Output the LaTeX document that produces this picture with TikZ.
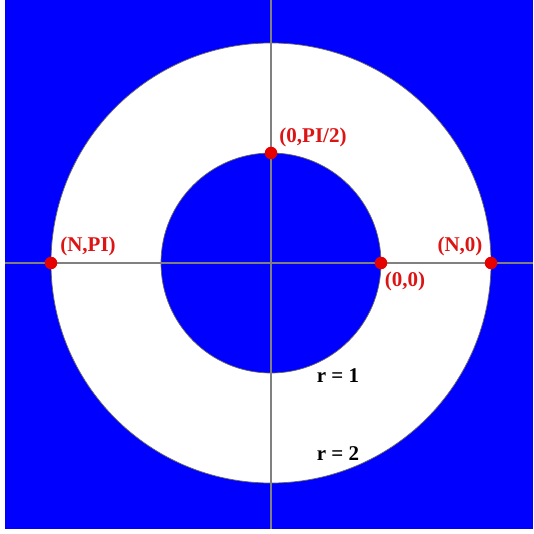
\documentclass[tikz,border=0pt]{standalone}
\usepackage{fontspec}
\setmainfont{Liberation Serif}
\definecolor{bgblue}{RGB}{0,0,255}
\definecolor{axisgray}{RGB}{128,128,128}
\definecolor{ptred}{RGB}{230,0,0}
\definecolor{lblred}{RGB}{220,20,20}
\begin{document}
\begin{tikzpicture}[x=1pt,y=-1pt,
  pt/.style={circle,fill=ptred,inner sep=0pt,minimum size=12.5pt},
  lbl/.style={text=lblred,font=\fontsize{21}{22}\selectfont\bfseries,inner sep=0pt},
  rlbl/.style={text=black,font=\fontsize{21}{22}\selectfont\bfseries,inner sep=0pt},
  axis/.style={draw=axisgray,line width=2pt}]
\useasboundingbox (0,0) rectangle (533,534);
\fill[white] (0,0) rectangle (533,534);
\fill[bgblue] (5,0) rectangle (533,529);
\coordinate (c) at (271,263);
\fill[white,draw=gray!80!black,line width=0.7pt] (c) circle[radius=220];
\fill[bgblue,draw=gray!80!black,line width=0.7pt] (c) circle[radius=110];
\coordinate (top) at (271,0);
\coordinate (bot) at (271,529);
\coordinate (lft) at (5,263);
\coordinate (rgt) at (533,263);
\draw[axis] (top) -- (bot);
\draw[axis] (lft) -- (rgt);
\node[pt] (p00) at (381,263) {};
\node[pt] (pN0) at (491,263) {};
\node[pt] (pNPI) at (51,263) {};
\node[pt] (p0PI2) at (271,153) {};
\node[lbl] (l00) at (405,281) {(0,0)};
\node[lbl] (lN0) at (460,246) {(N,0)};
\node[lbl] (lNPI) at (88,246) {(N,PI)};
\node[lbl] (l0PI2) at (313,137) {(0,PI/2)};
\node[rlbl] (r1) at (338,376) {r = 1};
\node[rlbl] (r2) at (338,454) {r = 2};
\end{tikzpicture}
\end{document}
